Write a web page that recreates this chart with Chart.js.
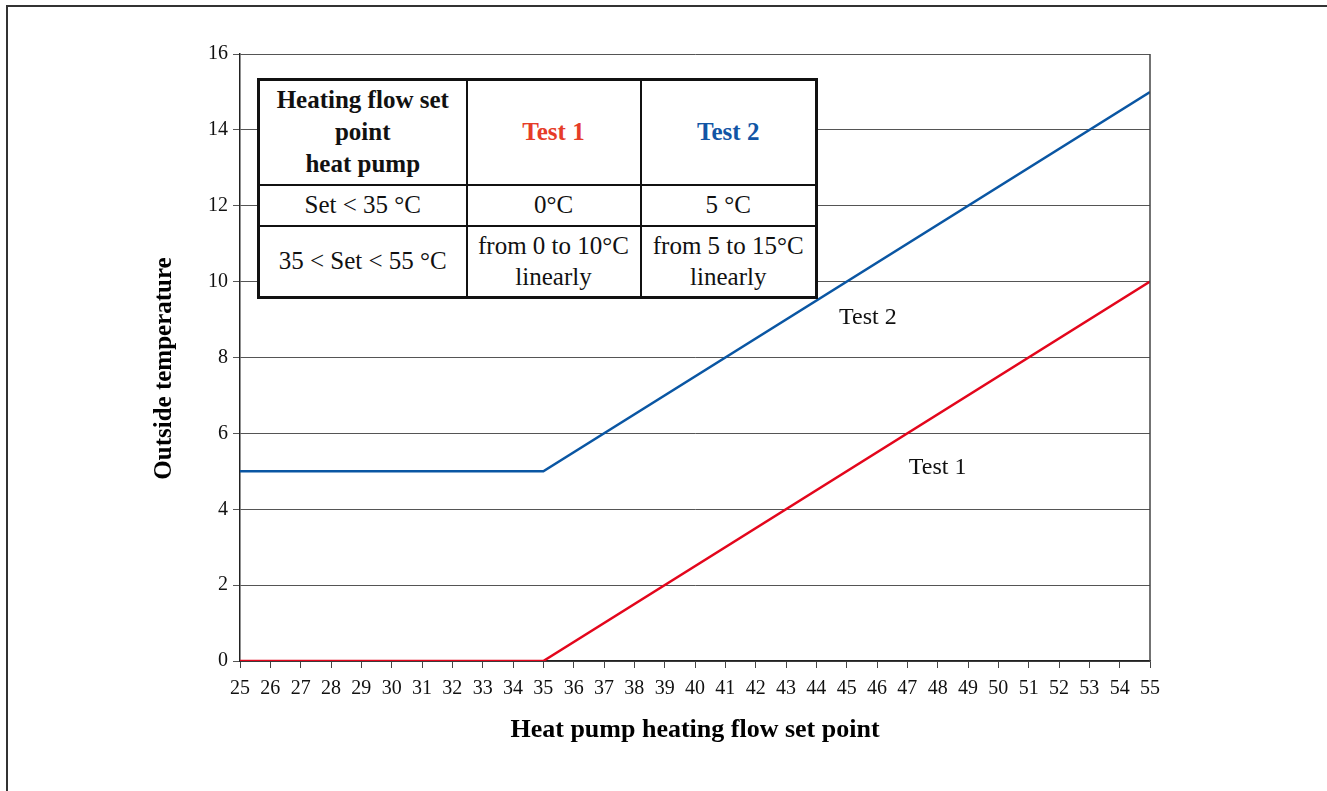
<!DOCTYPE html>
<html>
<head>
<meta charset="utf-8">
<script src="https://cdn.jsdelivr.net/npm/chart.js@4/dist/chart.umd.min.js"></script>
<style>
  html, body { margin: 0; padding: 0; background: #fff; }
  #wrap { position: relative; width: 1327px; height: 791px; overflow: hidden; }
  #frame { position: absolute; left: 6px; top: 5px; width: 1340px; height: 800px;
           border-top: 2px solid #333; border-left: 2px solid #333; }
  canvas { position: absolute; left: 0; top: 0; }
  #tbl { position: absolute; left: 257px; top: 78px; width: 558px; height: 218px;
         border-collapse: collapse; border: 3px solid #111; table-layout: fixed;
         font-family: "Liberation Serif", "DejaVu Serif", serif; font-size: 25px;
         color: #111; background: #fff; text-align: center; }
  #tbl td { border: 2px solid #111; padding: 0 2px; line-height: 32px; white-space: nowrap; }
  #tbl .hd { font-weight: bold; }
</style>
</head>
<body>
<div id="wrap">
  <div id="frame"></div>
  <canvas id="c" width="1327" height="791"></canvas>
  <table id="tbl">
    <colgroup><col style="width:208px"><col style="width:174px"><col style="width:176px"></colgroup>
    <tr style="height:105px">
      <td class="hd">Heating flow set<br>point<br>heat pump</td>
      <td class="hd" style="color:#e63c28">Test 1</td>
      <td class="hd" style="color:#1155a5">Test 2</td>
    </tr>
    <tr style="height:41px">
      <td>Set &lt; 35 °C</td><td>0°C</td><td>5 °C</td>
    </tr>
    <tr style="height:72px">
      <td>35 &lt; Set &lt; 55 °C</td>
      <td style="line-height:31px">from 0 to 10°C<br>linearly</td>
      <td style="line-height:31px">from 5 to 15°C<br>linearly</td>
    </tr>
  </table>
</div>
<script>
// set point (x) and outside temperature (y) for each test
const setPoints = [25, 35, 55];
const test1 = [0, 0, 10];
const test2 = [5, 5, 15];

// in-chart labels: text, x, y (data units)
const lineLabels = ["Test 2", "Test 1"];
const labelX = [45.7, 48.0];
const labelY = [9.05, 5.1];

const yTitle = "Outside temperature";
const xTitle = "Heat pump heating flow set point";

const serif = "'Liberation Serif', 'DejaVu Serif', serif";

const toPts = ys => setPoints.map((x, i) => ({ x: x, y: ys[i] }));

const extras = {
  id: "extras",
  afterDraw(chart) {
    const { ctx, scales: { x, y } } = chart;
    ctx.save();
    // right edge of the plot box
    ctx.strokeStyle = "#444";
    ctx.lineWidth = 1.5;
    ctx.beginPath();
    ctx.moveTo(x.right, y.top);
    ctx.lineTo(x.right, y.bottom);
    ctx.stroke();
    // line labels
    ctx.fillStyle = "#111";
    ctx.font = "24px " + serif;
    ctx.textAlign = "center";
    ctx.textBaseline = "middle";
    lineLabels.forEach((t, i) => {
      ctx.fillText(t, x.getPixelForValue(labelX[i]), y.getPixelForValue(labelY[i]));
    });
    // y title, sits a bit below the axis middle as in the original
    ctx.translate(y.right - 75, (y.top + y.bottom) / 2 + 11);
    ctx.rotate(-Math.PI / 2);
    ctx.fillStyle = "#000";
    ctx.font = "bold 25px " + serif;
    ctx.fillText(yTitle, 0, 0);
    ctx.restore();
  }
};

new Chart(document.getElementById("c"), {
  type: "line",
  data: {
    datasets: [
      { label: "Test 2", data: toPts(test2), borderColor: "#0a56a3", borderWidth: 2.5,
        pointRadius: 0, fill: false, tension: 0 },
      { label: "Test 1", data: toPts(test1), borderColor: "#e3061c", borderWidth: 2.5,
        pointRadius: 0, fill: false, tension: 0 }
    ]
  },
  options: {
    responsive: false,
    animation: false,
    layout: { padding: { left: 145, right: 177, top: 54, bottom: 41 } },
    plugins: { legend: { display: false }, tooltip: { enabled: false } },
    scales: {
      x: {
        type: "linear", min: 25, max: 55,
        ticks: { stepSize: 1, color: "#111", padding: 9, font: { family: serif, size: 20 } },
        grid: { drawOnChartArea: false, tickLength: 7, color: "#444" },
        border: { color: "#222", width: 1.5 },
        title: { display: true, text: xTitle, color: "#000",
                 font: { family: serif, size: 26, weight: "bold" }, padding: { top: 4, bottom: 4 } },
        afterFit: s => { s.height = 89; }
      },
      y: {
        min: 0, max: 16,
        ticks: { stepSize: 2, color: "#111", padding: 5, font: { family: serif, size: 20 } },
        grid: { color: "#555", tickLength: 7, lineWidth: 1 },
        border: { color: "#222", width: 1.5 },
        title: { display: false },
        afterFit: s => { s.width = 95; }
      }
    }
  },
  plugins: [extras]
});
</script>
</body>
</html>
